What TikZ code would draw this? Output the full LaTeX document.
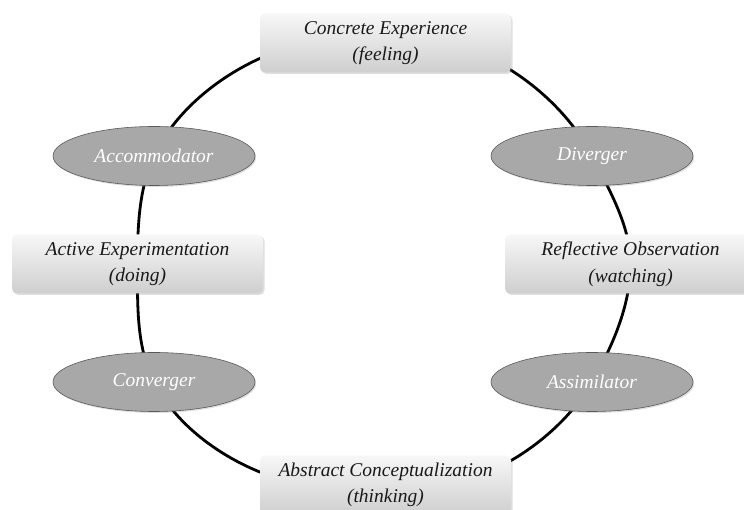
\documentclass[tikz,border=0pt]{standalone}
\usepackage{fontspec}
\setmainfont{Liberation Serif}
\usetikzlibrary{shapes.geometric,shadows,backgrounds}

\tikzset{
  stagebox/.style={
    rectangle, rounded corners=5pt, minimum width=251pt, minimum height=59pt,
    top color=gray!6, bottom color=gray!38, draw=none,
    drop shadow={opacity=0.25, shadow xshift=1.5pt, shadow yshift=-1.5pt},
    align=center, font=\fontsize{19.5}{26.5}\selectfont\itshape, text=black!90
  },
  stylenode/.style={
    ellipse, minimum width=202pt, minimum height=59pt, inner sep=0pt,
    fill=gray!68, draw=black!65, line width=0.6pt,
    drop shadow={opacity=0.25, shadow xshift=1.2pt, shadow yshift=-1.5pt},
    font=\fontsize{19.5}{22}\selectfont\itshape, text=white
  },
  cycleline/.style={line width=2.8pt, black, looseness=0.85}
}

\begin{document}
\begin{tikzpicture}[x=1pt, y=1pt]
  \useasboundingbox (0,0) rectangle (744,510);
  \clip (0,0) rectangle (744,510);

  % the four stages of the cycle
  \node[stagebox] (ce) at (385.5,467) {Concrete Experience\\(feeling)};
  \node[stagebox] (ro) at (630.5,246) {Reflective Observation\\(watching)};
  \node[stagebox] (ac) at (385.5,25)  {Abstract Conceptualization\\(thinking)};
  \node[stagebox] (ae) at (137.5,246) {Active Experimentation\\(doing)};

  % the four learning styles between them
  \node[stylenode] (acc) at (154,354) {Accommodator};
  \node[stylenode] (div) at (592,354) {Diverger};
  \node[stylenode] (asm) at (592,128) {Assimilator};
  \node[stylenode] (cnv) at (154,128) {Converger};

  % the cycle, running centre to centre behind every node
  \begin{scope}[on background layer]
    \draw[cycleline] (ce.center)  to[out=165, in=65]  (acc.center);
    \draw[cycleline] (acc.center) to[out=245, in=90]  (ae.center);
    \draw[cycleline] (ae.center)  to[out=270, in=117] (cnv.center);
    \draw[cycleline] (cnv.center) to[out=297, in=194] (ac.center);
    \draw[cycleline] (ac.center)  to[out=346, in=240] (asm.center);
    \draw[cycleline] (asm.center) to[out=60,  in=270] (ro.center);
    \draw[cycleline] (ro.center)  to[out=90,  in=297] (div.center);
    \draw[cycleline] (div.center) to[out=117, in=15]  (ce.center);
  \end{scope}
\end{tikzpicture}
\end{document}
